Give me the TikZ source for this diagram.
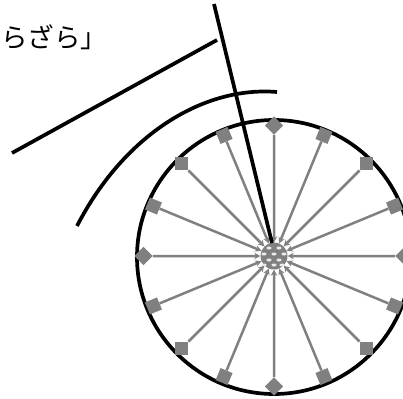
\documentclass[tikz,border=0pt]{standalone}
\usepackage{fontspec}
\newfontfamily\jpfont{Noto Sans CJK JP}
\usetikzlibrary{arrows.meta,calc}

\begin{document}
\begin{tikzpicture}[
    x=1pt, y=-1pt,
    stroke/.style={line width=3.7pt, black},
    spoke/.style={line width=2.5pt, draw=gray, -{Stealth[length=6pt,width=6.5pt,fill=gray!30]}},
    marker/.style={draw=none, fill=gray, minimum size=13pt, inner sep=0pt, shape=rectangle},
  ]
    \useasboundingbox (0,0) rectangle (403,398);
    \clip (0,0) rectangle (403,398);

    % Caption
    \node[font=\jpfont\fontsize{26.5pt}{26.5pt}\selectfont, anchor=west, inner sep=0pt] (caption) at (1,37) {らざら」};

    % Wheel
    \node[circle, draw=black, line width=3.7pt, minimum size=274pt, inner sep=0pt] (wheel) at (274,257) {};

    % Hub
    \node[circle, fill=gray, minimum size=27pt, inner sep=0pt] (hub) at (274,256) {};
    \foreach \dx/\dy in {-5/-8, 5/-8, -10/-2, 0/-2, 10/-2, -5/4, 5/4, -10/9, 0/9, 8/9}
      \fill[white!85!gray] ($(hub)+(\dx,\dy)$) ellipse (2.6 and 1.5);

    % Spokes
    \foreach \n [evaluate=\n as \a using 22.5*\n] in {0,...,15} {
      \node[marker, rotate=45+\a] (m\n) at ($(hub)+(\a:130.5)$) {};
      \draw[spoke] (m\n) -- (hub);
    }

    % Fender and struts
    \coordinate (fenderL) at (77,226);
    \coordinate (fenderR) at (277,92);
    \draw[stroke] (fenderL) .. controls (125,133) and (205,86) .. (fenderR);
    \coordinate (barL) at (12,153);
    \coordinate (barR) at (217,40);
    \draw[stroke] (barL) -- (barR);
    \coordinate (forkT) at (214,4);
    \coordinate (forkB) at (272,243);
    \draw[stroke] (forkT) -- (forkB);
\end{tikzpicture}
\end{document}
